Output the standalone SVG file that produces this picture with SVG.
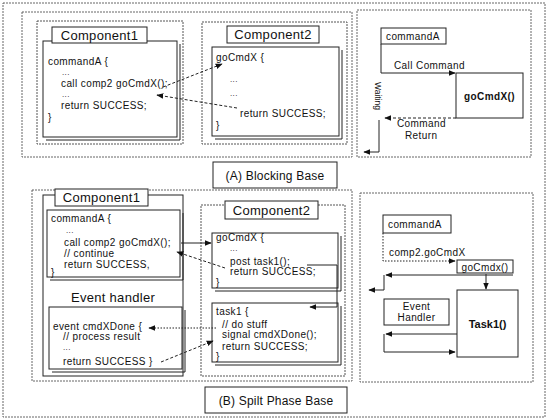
<svg xmlns="http://www.w3.org/2000/svg" width="548" height="420" viewBox="0 0 548 420">
<defs>
<style>
text{font-family:"Liberation Sans",Arial,sans-serif;fill:#111}
.code{font-size:10px;letter-spacing:0.4px}
.dots{font-size:8px;letter-spacing:0.4px}
.lbl{font-size:13px;letter-spacing:0.3px}
.cap{font-size:12px;letter-spacing:0.2px}
.b{font-weight:bold}
.panel{fill:none;stroke:#666;stroke-width:1;stroke-dasharray:2 1}
.box{fill:#fff;stroke:#222;stroke-width:1}
.sh{fill:none;stroke:#222;stroke-width:1}
.dbox{fill:none;stroke:#555;stroke-width:1;stroke-dasharray:2 1}
.ln{fill:none;stroke:#222;stroke-width:1}
.dl{fill:none;stroke:#222;stroke-width:1;stroke-dasharray:3 2}
.dt{fill:none;stroke:#222;stroke-width:1;stroke-dasharray:1.5 1.5}
</style>
<marker id="ah" viewBox="0 0 10 10" refX="9" refY="5" markerWidth="7" markerHeight="7" orient="auto-start-reverse" markerUnits="userSpaceOnUse">
<path d="M0,1 L10,5 L0,9 z" fill="#111"/>
</marker>
</defs>
<rect x="0" y="0" width="548" height="420" fill="#fff"/>
<rect class="panel" x="3" y="3" width="542" height="414"/>

<!-- (A) Blocking Base -->
<g id="panelA-left">
<rect class="panel" x="22" y="12" width="330" height="145"/>
</g>
<g id="A-component1">
<rect class="dbox" x="37" y="21" width="146" height="123"/>
<rect class="box" x="43" y="41" width="134" height="96"/>
<polyline class="sh" points="46,140 180,140 180,44"/>
<rect class="box" x="52" y="27" width="95" height="16"/>
<text class="lbl" x="99.5" y="40" text-anchor="middle">Component1</text>
<text class="code" x="48" y="65">commandA {</text>
<text class="dots" x="62" y="75">...</text>
<text class="code" x="61" y="87">call comp2 goCmdX();</text>
<text class="dots" x="62" y="97">...</text>
<text class="code" x="61" y="109">return SUCCESS;</text>
<text class="code" x="48" y="121">}</text>
</g>
<g id="A-component2">
<rect class="dbox" x="202" y="22" width="145" height="122"/>
<rect class="box" x="212" y="47" width="127" height="89"/>
<polyline class="sh" points="215,139 342,139 342,50"/>
<rect class="box" x="227" y="26" width="92" height="17"/>
<text class="lbl" x="273" y="39" text-anchor="middle">Component2</text>
<text class="code" x="216" y="61">goCmdX {</text>
<text class="dots" x="230" y="82">...</text>
<text class="dots" x="230" y="96">...</text>
<text class="code" x="240" y="117">return SUCCESS;</text>
<text class="code" x="216" y="129">}</text>
</g>
<g id="A-right">
<rect class="panel" x="357" y="10" width="174" height="147"/>
<rect class="box" x="381" y="28" width="65" height="16"/>
<text class="code" x="386" y="40">commandA</text>
<rect class="box" x="456" y="73" width="67" height="45"/>
<text class="code b" x="489.5" y="100" text-anchor="middle">goCmdX()</text>
<text class="code" x="394" y="69">Call Command</text>
<text class="code" x="397" y="127">Command</text>
<text class="code" x="405" y="139">Return</text>
<text font-size="8.5" transform="translate(375,82) rotate(90)">Waiting</text>
</g>
<g id="A-caption">
<rect class="box" x="213" y="162" width="124" height="26"/>
<text class="cap" x="275" y="180" text-anchor="middle">(A) Blocking Base</text>
</g>

<!-- (B) Split Phase Base -->
<g id="panelB-left">
<rect class="panel" x="32" y="190" width="320" height="191"/>
</g>
<g id="B-component1">
<rect class="ln" x="43" y="195" width="140" height="181"/>
<rect class="box" x="47" y="210" width="133" height="67"/>
<polyline class="sh" points="50,280 183,280 183,213"/>
<rect class="box" x="55" y="189" width="93" height="17"/>
<text class="lbl" x="101.5" y="202" text-anchor="middle">Component1</text>
<text class="code" x="51" y="222">commandA {</text>
<text class="dots" x="66" y="233">...</text>
<text class="code" x="64" y="246">call comp2 goCmdX();</text>
<text class="code" x="64" y="257">// continue</text>
<text class="code" x="64" y="268">return SUCCESS,</text>
<text class="code" x="51" y="276">}</text>
<text class="lbl" x="113" y="302" text-anchor="middle">Event handler</text>
<rect class="box" x="49" y="307" width="133" height="62"/>
<polyline class="sh" points="52,372 185,372 185,310"/>
<text class="code" x="53" y="330">event cmdXDone {</text>
<text class="code" x="63" y="340">// process result</text>
<text class="dots" x="63" y="350">...</text>
<text class="code" x="63" y="365">return SUCCESS }</text>
</g>
<g id="B-component2">
<rect class="dbox" x="201" y="205" width="144" height="171"/>
<rect class="box" x="225" y="201" width="93" height="18"/>
<text class="lbl" x="271.5" y="215" text-anchor="middle">Component2</text>
<rect class="box" x="212" y="233" width="126" height="55"/>
<polyline class="sh" points="215,291 341,291 341,236"/>
<text class="code" x="216" y="241">goCmdX {</text>
<text class="dots" x="230" y="251">...</text>
<text class="code" x="230" y="265">post task1();</text>
<text class="code" x="230" y="275">return SUCCESS;</text>
<text class="code" x="216" y="286">}</text>
<rect class="box" x="212" y="303" width="126" height="59"/>
<polyline class="sh" points="215,365 341,365 341,306"/>
<text class="code" x="216" y="315">task1 {</text>
<text class="code" x="222" y="328">// do stuff</text>
<text class="code" x="222" y="338">signal cmdXDone();</text>
<text class="code" x="222" y="350">return SUCCESS;</text>
<text class="code" x="216" y="360">}</text>
</g>
<g id="B-right">
<rect class="panel" x="360" y="193" width="173" height="189"/>
<rect class="box" x="383" y="215" width="68" height="18"/>
<text class="code" x="388" y="228">commandA</text>
<text class="code" x="389" y="256">comp2.goCmdX</text>
<rect class="box" x="457" y="260" width="56" height="13"/>
<text class="code" x="485" y="270.5" text-anchor="middle" font-size="11">goCmdx()</text>
<rect class="box" x="457" y="290" width="61" height="67"/>
<text class="b" font-size="11" x="487.5" y="328" text-anchor="middle">Task1()</text>
<rect class="box" x="384" y="299" width="65" height="26"/>
<text class="code" x="416.5" y="310" text-anchor="middle">Event</text>
<text class="code" x="416.5" y="321" text-anchor="middle">Handler</text>
</g>
<g id="B-caption">
<rect class="box" x="205" y="387" width="142" height="26"/>
<text class="cap" x="276" y="405" text-anchor="middle">(B) Spilt Phase Base</text>
</g>

<g id="connectors">
<!-- A left -->
<line class="dl" x1="163" y1="87" x2="222" y2="64" marker-end="url(#ah)"/>
<line class="dl" x1="237" y1="108" x2="157" y2="95" marker-end="url(#ah)"/>
<!-- A right -->
<polyline class="ln" points="381,44 381,73 455,73" marker-end="url(#ah)"/>
<line class="dl" x1="456" y1="118" x2="385" y2="118" marker-end="url(#ah)"/>
<polyline class="ln" points="379,120 379,152 364,152" marker-end="url(#ah)"/>
<!-- B left -->
<line class="ln" x1="181" y1="243" x2="211" y2="243" marker-end="url(#ah)"/>
<line class="dl" x1="225" y1="268" x2="177" y2="252" marker-end="url(#ah)"/>
<polyline class="ln" points="307,265 337,265 337,307 310,307" marker-end="url(#ah)"/>
<line class="dt" x1="216" y1="328" x2="149" y2="328" marker-end="url(#ah)"/>
<line class="dl" x1="161" y1="362" x2="213" y2="341" marker-end="url(#ah)"/>
<!-- B right -->
<polyline class="dt" points="383,233 383,261 455,261" marker-end="url(#ah)"/>
<line class="ln" x1="513" y1="275" x2="386" y2="275" marker-end="url(#ah)"/>
<polyline class="ln" points="384,275 384,290 369,290" marker-end="url(#ah)"/>
<line class="ln" x1="486" y1="274" x2="486" y2="289" marker-end="url(#ah)"/>
<line class="ln" x1="457" y1="334" x2="386" y2="334" marker-end="url(#ah)"/>
<polyline class="ln" points="384,334 384,352 455,352" marker-end="url(#ah)"/>
</g>
</svg>
